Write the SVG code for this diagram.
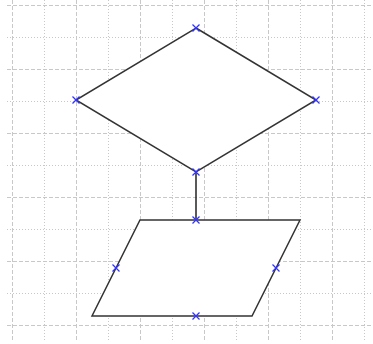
<svg xmlns="http://www.w3.org/2000/svg" width="373" height="344" viewBox="0 0 373 344">
<style>
.gd{stroke:#c8c8c8;stroke-width:1;stroke-dasharray:4 2;fill:none}
.gt{stroke:#c8c8c8;stroke-width:1;stroke-dasharray:1 2;fill:none}
.shape{fill:#fff;stroke:#333;stroke-width:1.5}
.conn{stroke:#222;stroke-width:1.5;fill:none}
.mk{stroke:#3333ff;stroke-width:1.3;fill:none}
</style>
<defs>
<path id="x" d="M-3.5,-3.5L3.5,3.5M-3.5,3.5L3.5,-3.5" class="mk"/>
</defs>
<rect width="373" height="344" fill="#fff"/>
<g id="grid">
<path class="gd" d="M7,5.5H373M7,69.5H373M7,133.5H373M7,197.5H373M7,261.5H373M7,325.5H373"/>
<path class="gt" d="M7,37.5H373M7,101.5H373M7,165.5H373M7,229.5H373M7,293.5H373"/>
<path class="gd" d="M12.5,0V340M76.5,0V340M140.5,0V340M204.5,0V340M268.5,0V340M332.5,0V340"/>
<path class="gt" d="M44.5,0V340M108.5,0V340M172.5,0V340M236.5,0V340M300.5,0V340M364.5,0V340"/>
</g>
<g id="connectors">
<line class="conn" x1="196" y1="172" x2="196" y2="220"/>
</g>
<g id="decision">
<polygon class="shape" points="196,28 316,100 196,172 76,100"/>
<use href="#x" x="196" y="28"/>
<use href="#x" x="76" y="100"/>
<use href="#x" x="316" y="100"/>
<use href="#x" x="196" y="172"/>
</g>
<g id="data">
<polygon class="shape" points="140,220 300,220 252,316 92,316"/>
<use href="#x" x="196" y="220"/>
<use href="#x" x="116" y="268"/>
<use href="#x" x="276" y="268"/>
<use href="#x" x="196" y="316"/>
</g>
</svg>
